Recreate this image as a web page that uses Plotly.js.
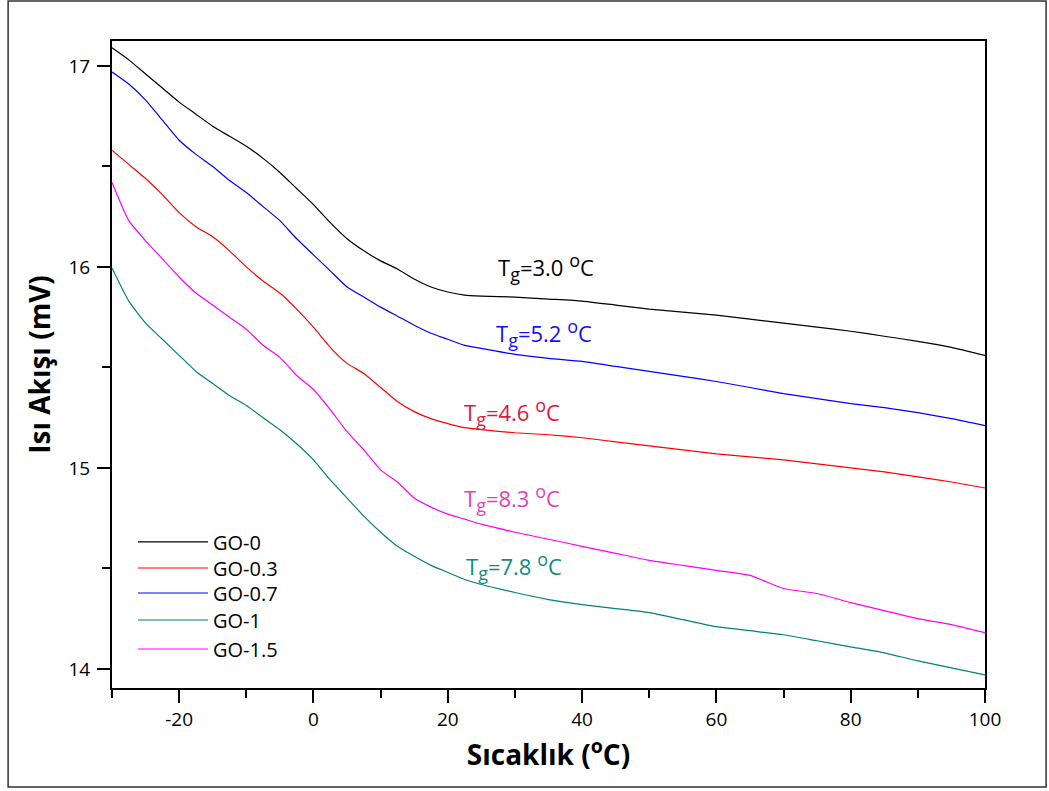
<!DOCTYPE html>
<html>
<head>
<meta charset="utf-8">
<script src="https://cdn.plot.ly/plotly-3.0.1.min.js"></script>
<style>
html,body{margin:0;padding:0;background:#fff;}
#chart{width:1049px;height:791px;}
</style>
</head>
<body>
<div id="chart"></div>
<script>
// Temperature (°C)
const temperature = [-30,-27.5,-25,-22.5,-20,-17.5,-15,-12.5,-10,-7.5,-5,-2.5,0,2.5,5,7.5,10,12.5,15,17.5,20,22.5,25,30,35,40,45,50,55,60,65,70,75,80,85,90,95,100];

// Heat flow (mV)
const go0 = [17.09,17.03,16.96,16.89,16.82,16.76,16.70,16.65,16.60,16.54,16.47,16.39,16.31,16.22,16.14,16.08,16.03,15.99,15.94,15.90,15.875,15.86,15.855,15.85,15.84,15.83,15.81,15.79,15.775,15.76,15.74,15.72,15.70,15.68,15.655,15.63,15.60,15.56];
const go03 = [16.58,16.51,16.44,16.36,16.27,16.20,16.15,16.08,16.00,15.93,15.87,15.79,15.70,15.60,15.52,15.47,15.40,15.33,15.28,15.245,15.22,15.20,15.19,15.175,15.165,15.15,15.13,15.11,15.09,15.07,15.055,15.04,15.02,15.00,14.98,14.955,14.93,14.90];
const go07 = [16.97,16.91,16.83,16.73,16.63,16.56,16.50,16.43,16.37,16.30,16.23,16.14,16.06,15.98,15.90,15.85,15.80,15.755,15.71,15.67,15.64,15.61,15.595,15.565,15.545,15.53,15.505,15.48,15.455,15.43,15.40,15.37,15.345,15.32,15.30,15.275,15.245,15.21];
const go1 = [15.995,15.83,15.72,15.64,15.56,15.48,15.42,15.36,15.31,15.25,15.19,15.12,15.04,14.94,14.85,14.76,14.68,14.61,14.56,14.515,14.48,14.445,14.42,14.38,14.345,14.32,14.30,14.28,14.245,14.21,14.19,14.17,14.14,14.11,14.08,14.04,14.005,13.97];
const go15 = [16.42,16.23,16.13,16.04,15.95,15.87,15.81,15.75,15.69,15.61,15.55,15.46,15.39,15.29,15.18,15.09,14.99,14.93,14.85,14.805,14.77,14.745,14.72,14.68,14.645,14.61,14.575,14.54,14.515,14.49,14.465,14.40,14.375,14.33,14.29,14.25,14.22,14.18];

const seriesNames = ['GO-0','GO-0.3','GO-0.7','GO-1','GO-1.5'];
const seriesValues = [go0, go03, go07, go1, go15];
const seriesColors = ['#000000','#ff0000','#0000ff','#008080','#ff00ff'];

// Tick labels
const xTickVals = [-20,0,20,40,60,80,100];
const xTickText = ['-20','0','20','40','60','80','100'];
const yTickVals = [14,15,16,17];
const yTickText = ['14','15','16','17'];

// Tg labels
const tgValues = ['3.0','5.2','4.6','8.3','7.8'];
const tgX = [34.7, 34.4, 29.6, 29.6, 29.9];
const tgY = [16.0, 15.67, 15.28, 14.85, 14.51];
const tgColors = ['#000000','#1010ff','#e0163c','#e040c0','#138a80'];

const FONT = '"Open Sans", Lato, sans-serif';

// legend row positions (paper y) for separate legends
const legendRows = [0.2257, 0.1855, 0.1468, 0.1051, 0.0603];
const legendIds = ['legend','legend2','legend3','legend4','legend5'];

const traces = seriesNames.map((n,i)=>({
  x: temperature, y: seriesValues[i], name: n, type:'scatter', mode:'lines',
  legend: legendIds[i],
  line:{color: seriesColors[i], width:1.2, shape:'spline', smoothing:0.5}
}));

const annotations = tgValues.map((v,i)=>({
  x: tgX[i], y: tgY[i], xref:'x', yref:'y',
  text:'T<sub><span style="font-size:18px">g</span></sub>=' + v + ' <sup><span style="font-size:18px">o</span></sup>C',
  showarrow:false,
  font:{family:FONT, size:22, color:tgColors[i]}
}));

const layout = {
  width:1049, height:791,
  margin:{l:112, r:64, t:41, b:103},
  paper_bgcolor:'#fff', plot_bgcolor:'#fff',
  showlegend:true,
  xaxis:{
    range:[-30,100], tickmode:'array', tickvals:xTickVals, ticktext:xTickText,
    ticks:'outside', ticklen:13, tickwidth:2, tickcolor:'#000',
    showline:true, linecolor:'#000', linewidth:2, mirror:true, showgrid:false, zeroline:false,
    tickfont:{family:FONT, size:19, color:'#000'},
    minor:{tickmode:'linear', tick0:-30, dtick:10, ticks:'outside', ticklen:8, tickwidth:2, tickcolor:'#000', showgrid:false},
    title:{text:'Sıcaklık (<sup>o</sup>C)', font:{family:FONT, size:28, color:'#000', weight:'bold'}, standoff:6}
  },
  yaxis:{
    range:[13.905,17.124], tickmode:'array', tickvals:yTickVals, ticktext:yTickText,
    ticks:'outside', ticklen:13, tickwidth:2, tickcolor:'#000',
    showline:true, linecolor:'#000', linewidth:2, mirror:true, showgrid:false, zeroline:false,
    tickfont:{family:FONT, size:19, color:'#000'},
    minor:{tickmode:'linear', tick0:14, dtick:0.5, ticks:'outside', ticklen:8, tickwidth:2, tickcolor:'#000', showgrid:false},
    ticklabelstandoff:3,
    title:{text:'Isı Akışı (mV)', font:{family:FONT, size:28, color:'#000', weight:'bold'}, standoff:10}
  },
  annotations: annotations,
  shapes:[{type:'rect', xref:'paper', yref:'paper', x0:-0.119, x1:1.07, y0:-0.153, y1:1.062,
    line:{color:'#333', width:1.5}, fillcolor:'rgba(0,0,0,0)', layer:'below'}]
};

legendIds.forEach((id,i)=>{
  layout[id] = {x:0.024, y:legendRows[i], xanchor:'left', yanchor:'middle', bgcolor:'rgba(0,0,0,0)',
    font:{family:FONT, size:20, color:'#000'}, itemwidth:70};
});

Plotly.newPlot('chart', traces, layout, {displayModeBar:false, staticPlot:true});
</script>
</body>
</html>
